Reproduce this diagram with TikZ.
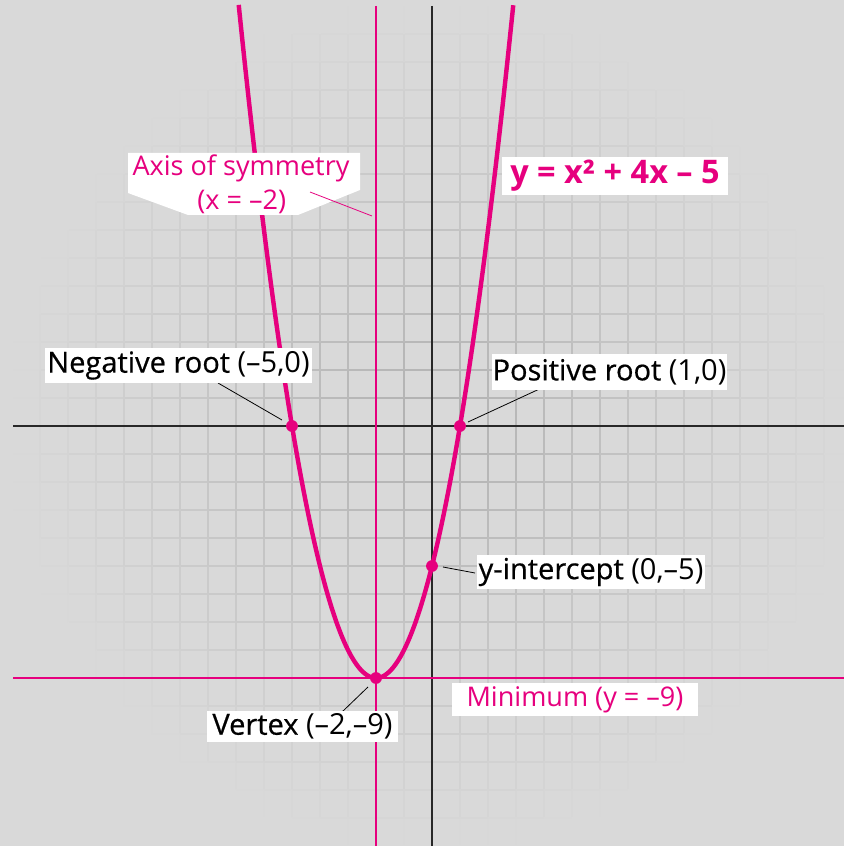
\documentclass[tikz,border=0pt]{standalone}
\usepackage{fontspec}
\setmainfont{Open Sans}
\newfontfamily\medf{Open Sans}[FakeBold=0.6]
\definecolor{pinkc}{RGB}{230,0,126}
\definecolor{bgc}{RGB}{217,217,217}
\definecolor{gridc}{RGB}{176,176,176}
\definecolor{axisc}{RGB}{40,40,40}
\begin{document}
\begin{tikzpicture}[x=1cm,y=1cm,
  lbl/.style={fill=white, inner sep=0pt, font=\fontsize{29.5}{32}\selectfont, text=black},
  pinklbl/.style={lbl, text=pinkc, font=\fontsize{27.5}{30}\selectfont},
  dot/.style={circle, fill=pinkc, inner sep=0pt, minimum size=12pt},
  leader/.style={draw=black, line width=0.8pt},
  pinkleader/.style={draw=pinkc, line width=0.8pt},
  axisline/.style={draw=axisc, line width=1.6pt},
  pinkline/.style={draw=pinkc, line width=1.5pt},
]
\useasboundingbox (-15.4286,-15.0) rectangle (14.7143,15.2143);
\fill[bgc] (-15.4286,-15.0) rectangle (14.7143,15.2143);
% fading grid
\foreach \i in {-16,...,15}{
  \foreach \j in {-16,...,16}{
    \pgfmathsetmacro\pc{100*max(0,1-sqrt((\i+0.5)*(\i+0.5)+\j*\j)/15)}
    \draw[line width=1.5pt, draw=gridc!\pc!bgc] (\i,\j) -- (\i+1,\j);
    \draw[line width=1.5pt, draw=gridc!\pc!bgc] (\j,\i) -- (\j,\i+1);
  }
}
% axes
\draw[axisline] (-14.95,0) -- (14.7143,0);
\draw[axisline] (0,15.0) -- (0,-15.0);
% axis of symmetry and minimum
\draw[pinkline] (-2,15.0) -- (-2,-15.0);
\draw[pinkline] (-14.95,-9) -- (14.7143,-9);
% parabola
\draw[pinkc, line width=4.5pt, domain=-6.903:2.903, samples=200, smooth] plot (\x,{\x*\x+4*\x-5});
% points
\node[dot] (pneg) at (-5,0) {};
\node[dot] (ppos) at (1,0) {};
\node[dot] (pyint) at (0,-5) {};
\node[dot] (pvert) at (-2,-9) {};
% leader ends
\coordinate (negA) at (-7.643,1.536);
\coordinate (negB) at (-5.357,0.214);
\coordinate (posA) at (4.071,1.429);
\coordinate (posB) at (1.286,0.143);
\coordinate (yintA) at (1.536,-5.25);
\coordinate (yintB) at (0.393,-5.036);
\coordinate (vertA) at (-3.214,-10.214);
\coordinate (vertB) at (-2.286,-9.321);
\coordinate (axA) at (-4.357,8.357);
\coordinate (axB) at (-2.143,7.5);
\draw[leader] (negA) -- (negB);
\draw[leader] (posA) -- (posB);
\draw[leader] (yintA) -- (yintB);
\draw[leader] (vertA) -- (vertB);
% labels
\node[lbl, minimum width=9.536cm, minimum height=1.25cm] (lneg) at (-9.054,2.161) {{\medf Negative root} (–5,0)};
\node[lbl, minimum width=8.393cm, minimum height=1.286cm] (lpos) at (6.339,1.929) {{\medf Positive root} (1,0)};
\node[lbl, minimum width=8.143cm, minimum height=1.214cm] (lyint) at (5.679,-5.214) {{\medf y-intercept} (0,–5)};
\node[lbl, minimum width=6.821cm, minimum height=1.107cm] (lvert) at (-4.625,-10.732) {{\medf Vertex} (–2,–9)};
\node[pinklbl, minimum width=8.786cm, minimum height=1.179cm] (lmin) at (5.107,-9.768) {Minimum (y = –9)};
\node[pinklbl, minimum width=8.071cm, minimum height=1.357cm, font=\bfseries\fontsize{33}{35}\selectfont] (leq) at (6.536,8.929) {y = x² + 4x – 5};
% axis of symmetry label
\fill[white] (-10.857,9.75) -- (-2.571,9.75) -- (-2.571,8.429) -- (-4.786,7.536) -- (-8.714,7.536) -- (-10.857,8.321) -- cycle;
\node[pinklbl, fill=none] (lax1) at (-6.821,9.2) {Axis of symmetry};
\node[pinklbl, fill=none] (lax2) at (-6.796,8.0) {(x = –2)};
\draw[pinkleader] (axA) -- (axB);
\end{tikzpicture}
\end{document}
